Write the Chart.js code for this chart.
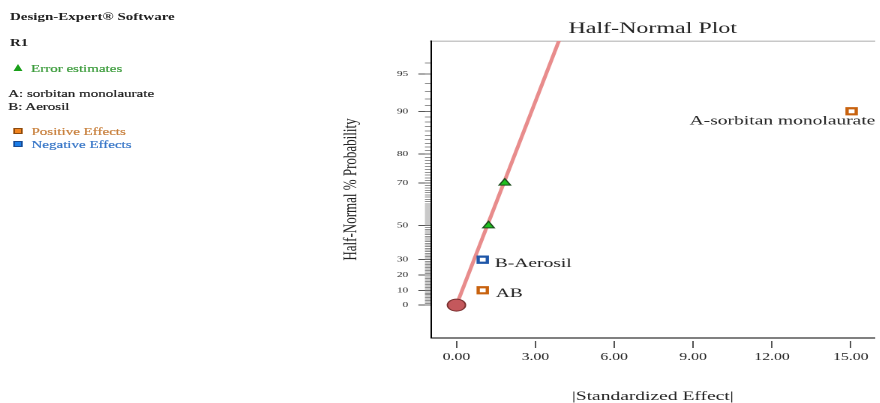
<!DOCTYPE html>
<html>
<head>
<meta charset="utf-8">
<script src="https://cdn.jsdelivr.net/npm/chart.js@4.4.1/dist/chart.umd.min.js"></script>
<style>
  body { margin: 0; background: #fff; overflow: hidden; }
  /* the source picture is stretched sideways, so the whole page is drawn narrow and scaled */
  #stage { position: absolute; left: 0; top: 0; width: 590px; height: 403px; transform: scaleX(1.5); transform-origin: 0 0; }
  #wrap { position: absolute; left: 0; top: 0; width: 590px; height: 403px; }
  .t { position: absolute; font-family: "Liberation Serif", serif; font-size: 10px; line-height: 12px; color: #222; white-space: nowrap; -webkit-text-stroke: 0.2px; }
  .b { font-weight: bold; -webkit-text-stroke: 0; }
  .tri { position: absolute; width: 0; height: 0; border-left: 3px solid transparent; border-right: 3px solid transparent; border-bottom: 7px solid #1aa01a; }
  .sq { position: absolute; width: 4px; height: 4px; border: 1px solid; }
</style>
</head>
<body>
<div id="stage">
  <div class="t b" style="left:6.7px;top:11px">Design-Expert® Software</div>
  <div class="t b" style="left:6.7px;top:36.5px">R1</div>
  <div class="tri" style="left:9.3px;top:64px"></div>
  <div class="t" style="left:20.7px;top:62.5px;color:#3c9c3c">Error estimates</div>
  <div class="t" style="left:5.5px;top:87.5px">A: sorbitan monolaurate</div>
  <div class="t" style="left:5.5px;top:100.5px">B: Aerosil</div>
  <div class="sq" style="left:9.3px;top:127.7px;background:#f2841e;border-color:#8a4a10"></div>
  <div class="t" style="left:21px;top:125.5px;color:#c8803e">Positive Effects</div>
  <div class="sq" style="left:9.3px;top:140.7px;background:#1a7de8;border-color:#1a4a90"></div>
  <div class="t" style="left:21px;top:138.5px;color:#3a78c8">Negative Effects</div>
  <div id="wrap"><canvas id="chart"></canvas></div>
</div>
<script>
// x = |standardized effect|, p = half-normal % probability
const xTicks = [0, 3, 6, 9, 12, 15];
const probTicks = [0, 10, 20, 30, 50, 70, 80, 90, 95];
const minorProb = [];
for (let i = 0; i <= 96; i++) minorProb.push(i);

const errX = [1.22, 1.84];
const errP = [50, 70];

const effectNames = ["A-sorbitan monolaurate", "B-Aerosil", "AB"];
const effectX = [15.03, 1.0, 1.0];
const effectP = [90, 30, 10];

const posX = [15.03, 1.0];   // A, AB
const posP = [90, 10];
const negX = [1.0];          // B
const negP = [30];

const originX = [0];
const originP = [0];

const lineX = [0, 4.27];
const lineP = [0, 98.6];

// label offsets (logical px) next to each named effect
const labelOffset = [[-108, 10], [8, 4], [8.7, 3.5]];

// inverse normal cdf (Acklam)
function probit(q) {
  const a = [-3.969683028665376e+01, 2.209460984245205e+02, -2.759285104469687e+02, 1.383577518672690e+02, -3.066479806614716e+01, 2.506628277459239e+00];
  const b = [-5.447609879822406e+01, 1.615858368580409e+02, -1.556989798598866e+02, 6.680131188771972e+01, -1.328068155288572e+01];
  const c = [-7.784894002430293e-03, -3.223964580411365e-01, -2.400758277161838e+00, -2.549732539343734e+00, 4.374664141464968e+00, 2.938163982698783e+00];
  const d = [7.784695709041462e-03, 3.224671290700398e-01, 2.445134137142996e+00, 3.754408661907416e+00];
  const pl = 0.02425;
  let t;
  if (q < pl) {
    t = Math.sqrt(-2 * Math.log(q));
    return (((((c[0]*t+c[1])*t+c[2])*t+c[3])*t+c[4])*t+c[5]) / ((((d[0]*t+d[1])*t+d[2])*t+d[3])*t+1);
  }
  if (q > 1 - pl) {
    t = Math.sqrt(-2 * Math.log(1 - q));
    return -(((((c[0]*t+c[1])*t+c[2])*t+c[3])*t+c[4])*t+c[5]) / ((((d[0]*t+d[1])*t+d[2])*t+d[3])*t+1);
  }
  t = q - 0.5;
  const r = t * t;
  return (((((a[0]*r+a[1])*r+a[2])*r+a[3])*r+a[4])*r+a[5])*t / (((((b[0]*r+b[1])*r+b[2])*r+b[3])*r+b[4])*r+1);
}
// half-normal probability -> linear axis position
const hn = p => p === 0 ? 0 : probit(0.5 + p / 200);

const pts = (xs, ps) => xs.map((x, i) => ({ x: x, y: hn(ps[i]) }));

const yMin = hn(-22), yMax = hn(97.5);
const xMin = -0.97, xMax = 15.9;
const serif = "'Liberation Serif', 'Times New Roman', serif";

const effectLabels = {
  id: "effectLabels",
  afterDatasetsDraw(chart) {
    const ctx = chart.ctx;
    const xs = chart.scales.x, ys = chart.scales.y;
    ctx.save();
    ctx.font = "13px " + serif;
    ctx.fillStyle = "#222";
    ctx.textBaseline = "middle";
    ctx.textAlign = "left";
    effectNames.forEach(function (name, i) {
      const px = xs.getPixelForValue(effectX[i]) + labelOffset[i][0];
      const py = ys.getPixelForValue(hn(effectP[i])) + labelOffset[i][1];
      ctx.fillText(name, px, py);
    });
    ctx.restore();
  }
};

const ctx = document.getElementById("chart").getContext("2d");
const myChart = new Chart(ctx, {
  type: "scatter",
  data: {
    datasets: [
      {
        label: "origin",
        data: pts(originX, originP),
        pointStyle: "circle",
        pointRadius: 6,
        backgroundColor: "#c4585c",
        borderColor: "#7a3030",
        borderWidth: 1,
        order: 0
      },
      {
        label: "Error estimates",
        data: pts(errX, errP),
        pointStyle: "triangle",
        pointRadius: 4.4,
        backgroundColor: "#1fc01f",
        borderColor: "#1d4d1d",
        borderWidth: 1,
        order: 0
      },
      {
        label: "Positive Effects",
        data: pts(posX, posP),
        pointStyle: "rect",
        pointRadius: 4.3,
        backgroundColor: "#ffffff",
        borderColor: "#c8620e",
        borderWidth: 2.2,
        order: 0
      },
      {
        label: "Negative Effects",
        data: pts(negX, negP),
        pointStyle: "rect",
        pointRadius: 4.3,
        backgroundColor: "#ffffff",
        borderColor: "#1e56a8",
        borderWidth: 2.2,
        order: 0
      },
      {
        label: "fit",
        type: "line",
        data: pts(lineX, lineP),
        borderColor: "#e88c8c",
        borderWidth: 2.6,
        pointRadius: 0,
        order: 5
      }
    ]
  },
  options: {
    responsive: true,
    maintainAspectRatio: false,
    animation: false,
    devicePixelRatio: 2,
    layout: { padding: { left: 226.2, right: 2.7, top: 0, bottom: 0 } },
    plugins: {
      legend: { display: false },
      tooltip: { enabled: false },
      title: {
        display: true,
        fullSize: false,
        text: "Half-Normal Plot",
        color: "#222",
        font: { family: serif, size: 16, weight: "normal" },
        padding: { top: 19.4, bottom: 2.4 }
      }
    },
    scales: {
      x: {
        type: "linear",
        position: "bottom",
        weight: 1,
        min: xMin,
        max: xMax,
        afterBuildTicks: function (axis) { axis.ticks = xTicks.map(v => ({ value: v })); },
        afterFit: function (axis) { axis.height = 62; },
        border: { display: false },
        grid: { drawOnChartArea: false, tickLength: 7, color: "#555" },
        ticks: {
          autoSkip: false,
          maxRotation: 0,
          padding: 3,
          color: "#222",
          font: { family: serif, size: 10.5 },
          callback: v => v.toFixed(2)
        },
        title: {
          display: true,
          text: "|Standardized Effect|",
          color: "#222",
          font: { family: serif, size: 13, lineHeight: 1 },
          padding: 0
        }
      },
      xb: {
        type: "linear",
        position: "bottom",
        weight: 0,
        min: xMin,
        max: xMax,
        afterFit: function (axis) { axis.height = 3; },
        border: { display: true, color: "#000", width: 1 },
        grid: { drawOnChartArea: false, drawTicks: false },
        ticks: { display: false }
      },
      x2: {
        type: "linear",
        position: "top",
        weight: 0,
        min: xMin,
        max: xMax,
        afterFit: function (axis) { axis.height = 0; },
        border: { display: true, color: "#c8c8c8", width: 1.5 },
        grid: { drawOnChartArea: false, drawTicks: false },
        ticks: { display: false }
      },
      y: {
        type: "linear",
        position: "left",
        weight: 1,
        min: yMin,
        max: yMax,
        afterBuildTicks: function (axis) { axis.ticks = probTicks.map(p => ({ value: hn(p) })); },
        afterFit: function (axis) { axis.width = 61.1; },
        border: { display: true, color: "#000", width: 1 },
        grid: { drawOnChartArea: false, tickLength: 8.4, color: "#555" },
        ticks: {
          autoSkip: false,
          padding: 6.7,
          color: "#222",
          font: { family: serif, size: 7.6 },
          callback: (v, i) => String(probTicks[i])
        },
        title: {
          display: true,
          text: "Half-Normal % Probability",
          color: "#222",
          font: { family: serif, size: 13 },
          padding: { top: 0, bottom: 0 }
        }
      },
      ym: {
        type: "linear",
        position: "left",
        weight: 0,
        min: yMin,
        max: yMax,
        afterBuildTicks: function (axis) { axis.ticks = minorProb.map(p => ({ value: hn(p) })); },
        afterFit: function (axis) { axis.width = 0; },
        border: { display: false },
        grid: { drawOnChartArea: false, tickLength: 4, color: "#777", lineWidth: 0.8 },
        ticks: { display: false, autoSkip: false }
      }
    }
  },
  plugins: [effectLabels]
});
</script>
</body>
</html>
